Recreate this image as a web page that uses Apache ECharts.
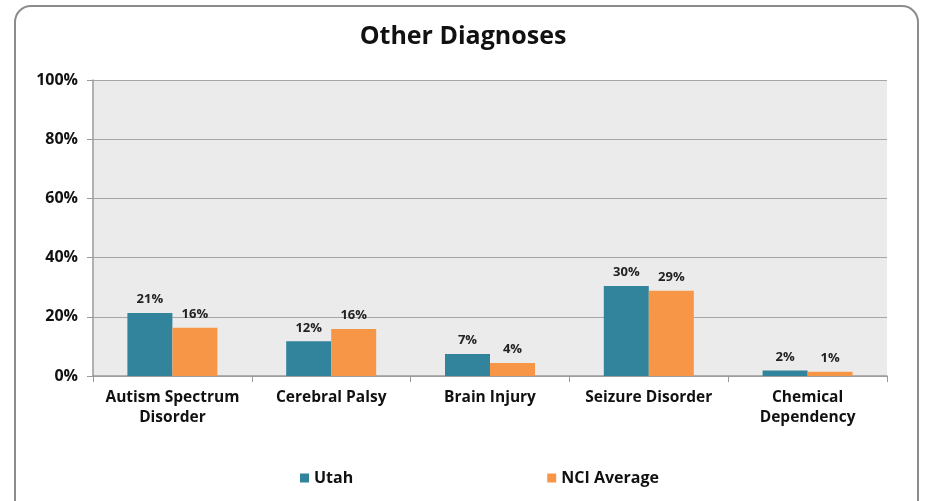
<!DOCTYPE html>
<html>
<head>
<meta charset="utf-8">
<script src="https://cdn.jsdelivr.net/npm/echarts@6/dist/echarts.min.js"></script>
<style>
html, body { margin: 0; padding: 0; background: #fff; }
#chart { width: 926px; height: 501px; }
</style>
</head>
<body>
<div id="chart"></div>
<script>
const categories = ['Autism Spectrum\nDisorder', 'Cerebral Palsy', 'Brain Injury', 'Seizure Disorder', 'Chemical\nDependency'];
const utahValues = [21.3, 11.7, 7.4, 30.4, 1.9];
const nciValues = [16.3, 15.9, 4.4, 28.8, 1.4];
const yTicks = [0, 20, 40, 60, 80, 100];

const chart = echarts.init(document.getElementById('chart'));
const font = '"Open Sans", "DejaVu Sans", sans-serif';

const barLabel = {
	show: true,
	position: 'top',
	distance: 7,
	color: '#222',
	fontWeight: 'bold',
	fontSize: 13,
	fontFamily: font,
	formatter: function (p) {
		return Math.round(p.value) + '%';
	}
};

chart.setOption({
	backgroundColor: '#fff',
	animation: false,
	graphic: [{
		type: 'rect',
		shape: { x: 15, y: 6, width: 903, height: 520, r: 16 },
		style: { fill: 'none', stroke: '#8c8c8c', lineWidth: 2 },
		z: -10
	}],
	title: {
		text: 'Other Diagnoses',
		left: 'center',
		top: 19,
		textStyle: { fontFamily: font, fontSize: 25, fontWeight: 'bold', color: '#111' }
	},
	legend: {
		bottom: 10,
		left: 295,
		itemWidth: 9,
		itemHeight: 9,
		itemGap: 194,
		icon: 'rect',
		textStyle: { fontFamily: font, fontSize: 16, fontWeight: 'bold', color: '#111' },
		data: ['Utah', 'NCI Average']
	},
	grid: { left: 93, right: 39, top: 80, bottom: 125, show: true, backgroundColor: '#ebebeb', borderWidth: 0 },
	xAxis: {
		type: 'category',
		data: categories,
		axisLine: { lineStyle: { color: '#9a9a9a', width: 1.5 } },
		axisTick: { show: true, length: 6, lineStyle: { color: '#9a9a9a' } },
		axisLabel: { color: '#111', fontFamily: font, fontSize: 15.5, fontWeight: 'bold', margin: 12, lineHeight: 20, interval: 0 }
	},
	yAxis: {
		type: 'value',
		min: 0,
		max: 100,
		interval: 20,
		axisLine: { show: true, lineStyle: { color: '#9a9a9a', width: 1.5 } },
		axisTick: { show: true, length: 6, lineStyle: { color: '#9a9a9a' } },
		splitLine: { lineStyle: { color: '#a6a6a6', width: 1 } },
		axisLabel: {
			color: '#111', fontFamily: font, fontSize: 16, fontWeight: 'bold', margin: 15,
			formatter: function (v) { return yTicks.indexOf(v) >= 0 ? v + '%' : ''; }
		}
	},
	series: [
		{
			name: 'Utah',
			type: 'bar',
			data: utahValues,
			barWidth: 45,
			barGap: '0%',
			itemStyle: { color: '#31849b' },
			label: barLabel
		},
		{
			name: 'NCI Average',
			type: 'bar',
			data: nciValues,
			barWidth: 45,
			itemStyle: { color: '#f79646' },
			label: barLabel
		}
	]
});
</script>
</body>
</html>
